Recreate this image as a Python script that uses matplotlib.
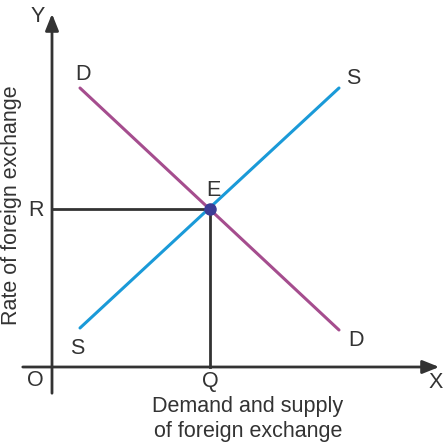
import numpy as np
import matplotlib.pyplot as plt

plt.rcParams['font.family'] = ['Liberation Sans', 'DejaVu Sans']

# curve end points (origin O at 0,0)
d_x = [28, 287]
d_y = [279, 37]
s_x = [28, 287]
s_y = [39, 279]
eq_x, eq_y = 158, 158

fig = plt.figure(figsize=(4.46, 4.45), dpi=100)
ax = fig.add_axes([0, 0, 1, 1])
ax.set_xlim(-52, 394)
ax.set_ylim(-78, 367)
ax.axis('off')

ink = '#333333'
# axes with arrows
ax.annotate('', xy=(390, 0), xytext=(-32, 0),
            arrowprops=dict(arrowstyle='-|>,head_length=1.0,head_width=0.4', color=ink, lw=2))
ax.annotate('', xy=(0, 356), xytext=(0, -29),
            arrowprops=dict(arrowstyle='-|>,head_length=1.0,head_width=0.4', color=ink, lw=2))

# guide lines to equilibrium
ax.plot([0, eq_x], [eq_y, eq_y], color=ink, lw=2)
ax.plot([eq_x, eq_x], [0, eq_y], color=ink, lw=2)

ax.plot(d_x, d_y, color='#a54d8e', lw=2.2, solid_capstyle='round')
ax.plot(s_x, s_y, color='#1a9ad8', lw=2.2, solid_capstyle='round')
ax.plot(eq_x, eq_y, 'o', color='#3c3c96', ms=8)

fs = 15.5
kw = dict(color=ink, fontsize=fs, ha='center', va='center')
ax.text(-14, 351, 'Y', **kw)
ax.text(384, -16, 'X', **kw)
ax.text(-17, -14, 'O', **kw)
ax.text(eq_x, -15, 'Q', **kw)
ax.text(-16, eq_y - 1, 'R', **kw)
ax.text(eq_x + 3, eq_y + 19, 'E', **kw)
ax.text(d_x[0] + 3, d_y[0] + 14, 'D', **kw)
ax.text(s_x[1] + 14, s_y[1] + 10, 'S', **kw)
ax.text(s_x[0] - 3, s_y[0] - 20, 'S', **kw)
ax.text(d_x[1] + 17, d_y[1] - 10, 'D', **kw)
ax.text(196, -52, 'Demand and supply\nof foreign exchange', color=ink, fontsize=fs,
        ha='center', va='center', linespacing=1.2)
ax.text(-40, 162, 'Rate of foreign exchange', color=ink, fontsize=fs,
        ha='center', va='center', rotation=90)

fig.savefig('out.png', dpi=100)
